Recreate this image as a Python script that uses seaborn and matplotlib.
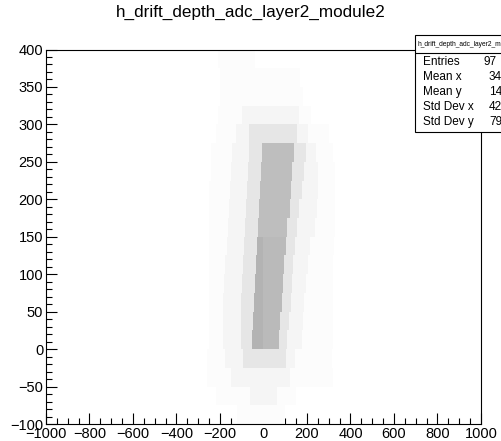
import numpy as np
import pandas as pd
import matplotlib
matplotlib.use("Agg")
import matplotlib.pyplot as plt
import seaborn as sns
from matplotlib.colors import LinearSegmentedColormap
from matplotlib.patches import Rectangle
from matplotlib.lines import Line2D
from matplotlib.ticker import MultipleLocator

nan = np.nan

# ---------------- data ----------------
title = "h_drift_depth_adc_layer2_module2"
stats_name = "h_drift_depth_adc_layer2_m"
stats_labels = ["Entries", "Mean x", "Mean y", "Std Dev x", "Std Dev y"]
stats_values = ["97", "34", "14", "42", "79"]

# rows of the 2D histogram (lower edge of each 25-unit row in y)
row_y0 = [-100, -75, -50, -25, 0, 25, 50, 75, 100, 125, 150, 175, 200, 225, 250,
          275, 300, 325, 350, 375]
# dense, saturated core band
core_lo = [nan, nan, nan, nan, -55, -50, -45, -40, -35, -30, -25, -20, -15, -10, -5,
           nan, nan, nan, nan, nan]
core_hi = [nan, nan, nan, nan, 70, 75, 85, 90, 95, 105, 110, 120, 125, 130, 140,
           nan, nan, nan, nan, nan]
core_shade_neg = [0, 0, 0, 0, 0.30, 0.30, 0.30, 0.30, 0.30, 0.30, 0.255, 0.255, 0.255,
                  0.255, 0.255, 0, 0, 0, 0, 0]
core_shade_pos = [0, 0, 0, 0, 0.27, 0.27, 0.27, 0.27, 0.27, 0.27, 0.255, 0.255, 0.255,
                  0.255, 0.255, 0, 0, 0, 0, 0]
# dense speckle next to the core
inner_lo = [nan, nan, nan, -95, -105, -105, -105, -100, -95, -90, -85, -80, -75, -70,
            -65, -65, nan, nan, nan, nan]
inner_hi = [nan, nan, nan, 105, 110, 115, 125, 130, 135, 145, 155, 165, 175, 185,
            195, 155, nan, nan, nan, nan]
# medium speckle
mid_lo = [nan, -60, -150, -175, -185, -185, -185, -180, -175, -170, -165, -160, -155,
          -150, -145, -125, -100, nan, nan, nan]
mid_hi = [nan, 60, 120, 145, 175, 180, 185, 195, 205, 215, 235, 245, 250, 250, 240,
          205, 165, nan, nan, nan]
# sparse scattered points
far_lo = [-120, -220, -260, -260, -250, -250, -250, -250, -250, -250, -250, -250, -250,
          -240, -240, -220, -210, -200, -200, -210]
far_hi = [100, 150, 320, 315, 320, 320, 320, 320, 320, 325, 330, 330, 330, 330, 320,
          300, 220, 180, 170, -40]
inner_shade = 0.10
mid_shade = 0.04
far_shade = 0.014

# ---------------- build the histogram table ----------------
x_edges = np.arange(-300, 405, 5)
y_edges = np.array(row_y0 + [400])
x_centers = (x_edges[:-1] + x_edges[1:]) / 2

def inside(v, lo, hi):
    return (not np.isnan(lo)) and lo <= v < hi

recs = []
for r, y0 in enumerate(row_y0):
    yc = y0 + 12.5
    for xc in x_centers:
        if inside(xc, core_lo[r], core_hi[r]):
            w = core_shade_neg[r] if xc < 0 else core_shade_pos[r]
        elif inside(xc, inner_lo[r], inner_hi[r]):
            w = inner_shade
        elif inside(xc, mid_lo[r], mid_hi[r]):
            w = mid_shade
        elif inside(xc, far_lo[r], far_hi[r]):
            w = far_shade
        else:
            w = 0.0
        recs.append((xc, yc, w))
df = pd.DataFrame(recs, columns=["x", "y", "w"])

# ---------------- drawing ----------------
sns.set_theme(style="white")
plt.rcParams["font.family"] = ["Liberation Sans", "DejaVu Sans"]

W, H = 502, 441
fig = plt.figure(figsize=(W / 100, H / 100), dpi=100)
fig.patch.set_facecolor("white")
ax = fig.add_axes([46 / W, 17 / H, 435 / W, 374.5 / H])

cmap = LinearSegmentedColormap.from_list("ink", [(1, 1, 1), (0, 0, 0)])
sns.histplot(data=df, x="x", y="y", weights="w", bins=[x_edges, y_edges],
             cmap=cmap, vmin=0, vmax=1, cbar=False, ax=ax)

ax.set_xlim(-1000, 1000)
ax.set_ylim(-100, 400)
ax.set_xlabel("")
ax.set_ylabel("")
ax.xaxis.set_major_locator(MultipleLocator(200))
ax.xaxis.set_minor_locator(MultipleLocator(50))
ax.yaxis.set_major_locator(MultipleLocator(50))
ax.yaxis.set_minor_locator(MultipleLocator(10))
ax.tick_params(which="major", direction="in", length=8, width=0.8, color="black",
               top=False, right=False, bottom=True, left=True, labelsize=10.5,
               pad=2, labelcolor="black")
ax.tick_params(which="minor", direction="in", length=4, width=0.8, color="black",
               top=False, right=False, bottom=True, left=True)
for s in ax.spines.values():
    s.set_color("black")
    s.set_linewidth(0.8)
ax.grid(False)

fig.text(0.5, 1 - 12.5 / H, title, ha="center", va="center", fontsize=12.3,
         color="black")

# stats box
bx0, by0, by1 = 415, 35, 132
fig.add_artist(Rectangle((bx0 / W, 1 - by1 / H), 200 / W, (by1 - by0) / H,
                         transform=fig.transFigure, facecolor="white",
                         edgecolor="black", linewidth=0.8, clip_on=False))
fig.add_artist(Line2D([bx0 / W, 1.2], [1 - 53 / H, 1 - 53 / H],
                      transform=fig.transFigure, color="black", linewidth=0.8))
fig.text(417 / W, 1 - 44 / H, stats_name, ha="left", va="center", fontsize=4.8,
         color="black")
row_y = [62, 77, 92, 107, 122]
val_x = [484, 489, 489, 489, 489]
for lab, val, yy, vx in zip(stats_labels, stats_values, row_y, val_x):
    fig.text(423 / W, 1 - yy / H, lab, ha="left", va="center", fontsize=8.5,
             color="black")
    fig.text(vx / W, 1 - yy / H, val, ha="left", va="center", fontsize=8.5,
             color="black")

fig.savefig("out.png", dpi=100)
